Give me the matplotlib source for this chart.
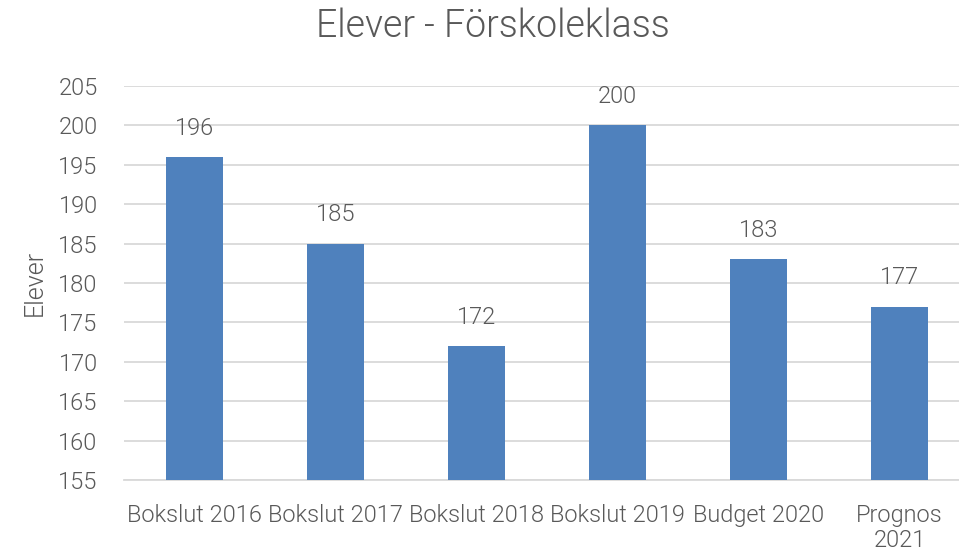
import matplotlib
matplotlib.use("Agg")
import matplotlib.pyplot as plt
from matplotlib import font_manager

categories = ["Bokslut 2016", "Bokslut 2017", "Bokslut 2018", "Bokslut 2019", "Budget 2020", "Prognos\n2021"]
elever = [196, 185, 172, 200, 183, 177]
yticks = [155, 160, 165, 170, 175, 180, 185, 190, 195, 200, 205]

names = set(f.name for f in font_manager.fontManager.ttflist)
fam = "Roboto" if "Roboto" in names else "DejaVu Sans"
plt.rcParams["font.family"] = [fam, "DejaVu Sans"]
plt.rcParams["font.weight"] = 300
plt.rcParams["axes.labelweight"] = 300

grey = "#595959"

fig = plt.figure(figsize=(9.59, 5.53), dpi=100)
ax = fig.add_axes([124 / 959, 73 / 553, 846 / 959, 394 / 553])

x = list(range(len(categories)))
ax.bar(x, elever, width=0.40, color="#4F81BD", zorder=3)
for xi, v in zip(x, elever):
    ax.text(xi, v + 2.2, str(v), ha="center", va="bottom", fontsize=17, color=grey)

ax.set_xlim(-0.5, len(categories) - 0.5)
ax.set_ylim(155, 205)
ax.set_yticks(yticks)
ax.set_xticks(x)
ax.set_xticklabels(categories, fontsize=17, color=grey, linespacing=1.15)
ax.tick_params(axis="y", labelsize=17, labelcolor=grey, length=0, pad=19)
ax.tick_params(axis="x", length=0, pad=17)
ax.grid(axis="y", color="#D9D9D9", linewidth=1.3, zorder=0)
for s in ["top", "right", "left"]:
    ax.spines[s].set_visible(False)
ax.spines["bottom"].set_color("#D9D9D9")
ax.spines["bottom"].set_linewidth(1.3)

ax.set_ylabel("Elever", fontsize=18, color=grey, labelpad=8)
fig.text(0.514, 0.952, "Elever - Förskoleklass", ha="center", va="center", fontsize=27, color=grey)

fig.savefig("out.png", dpi=100)
